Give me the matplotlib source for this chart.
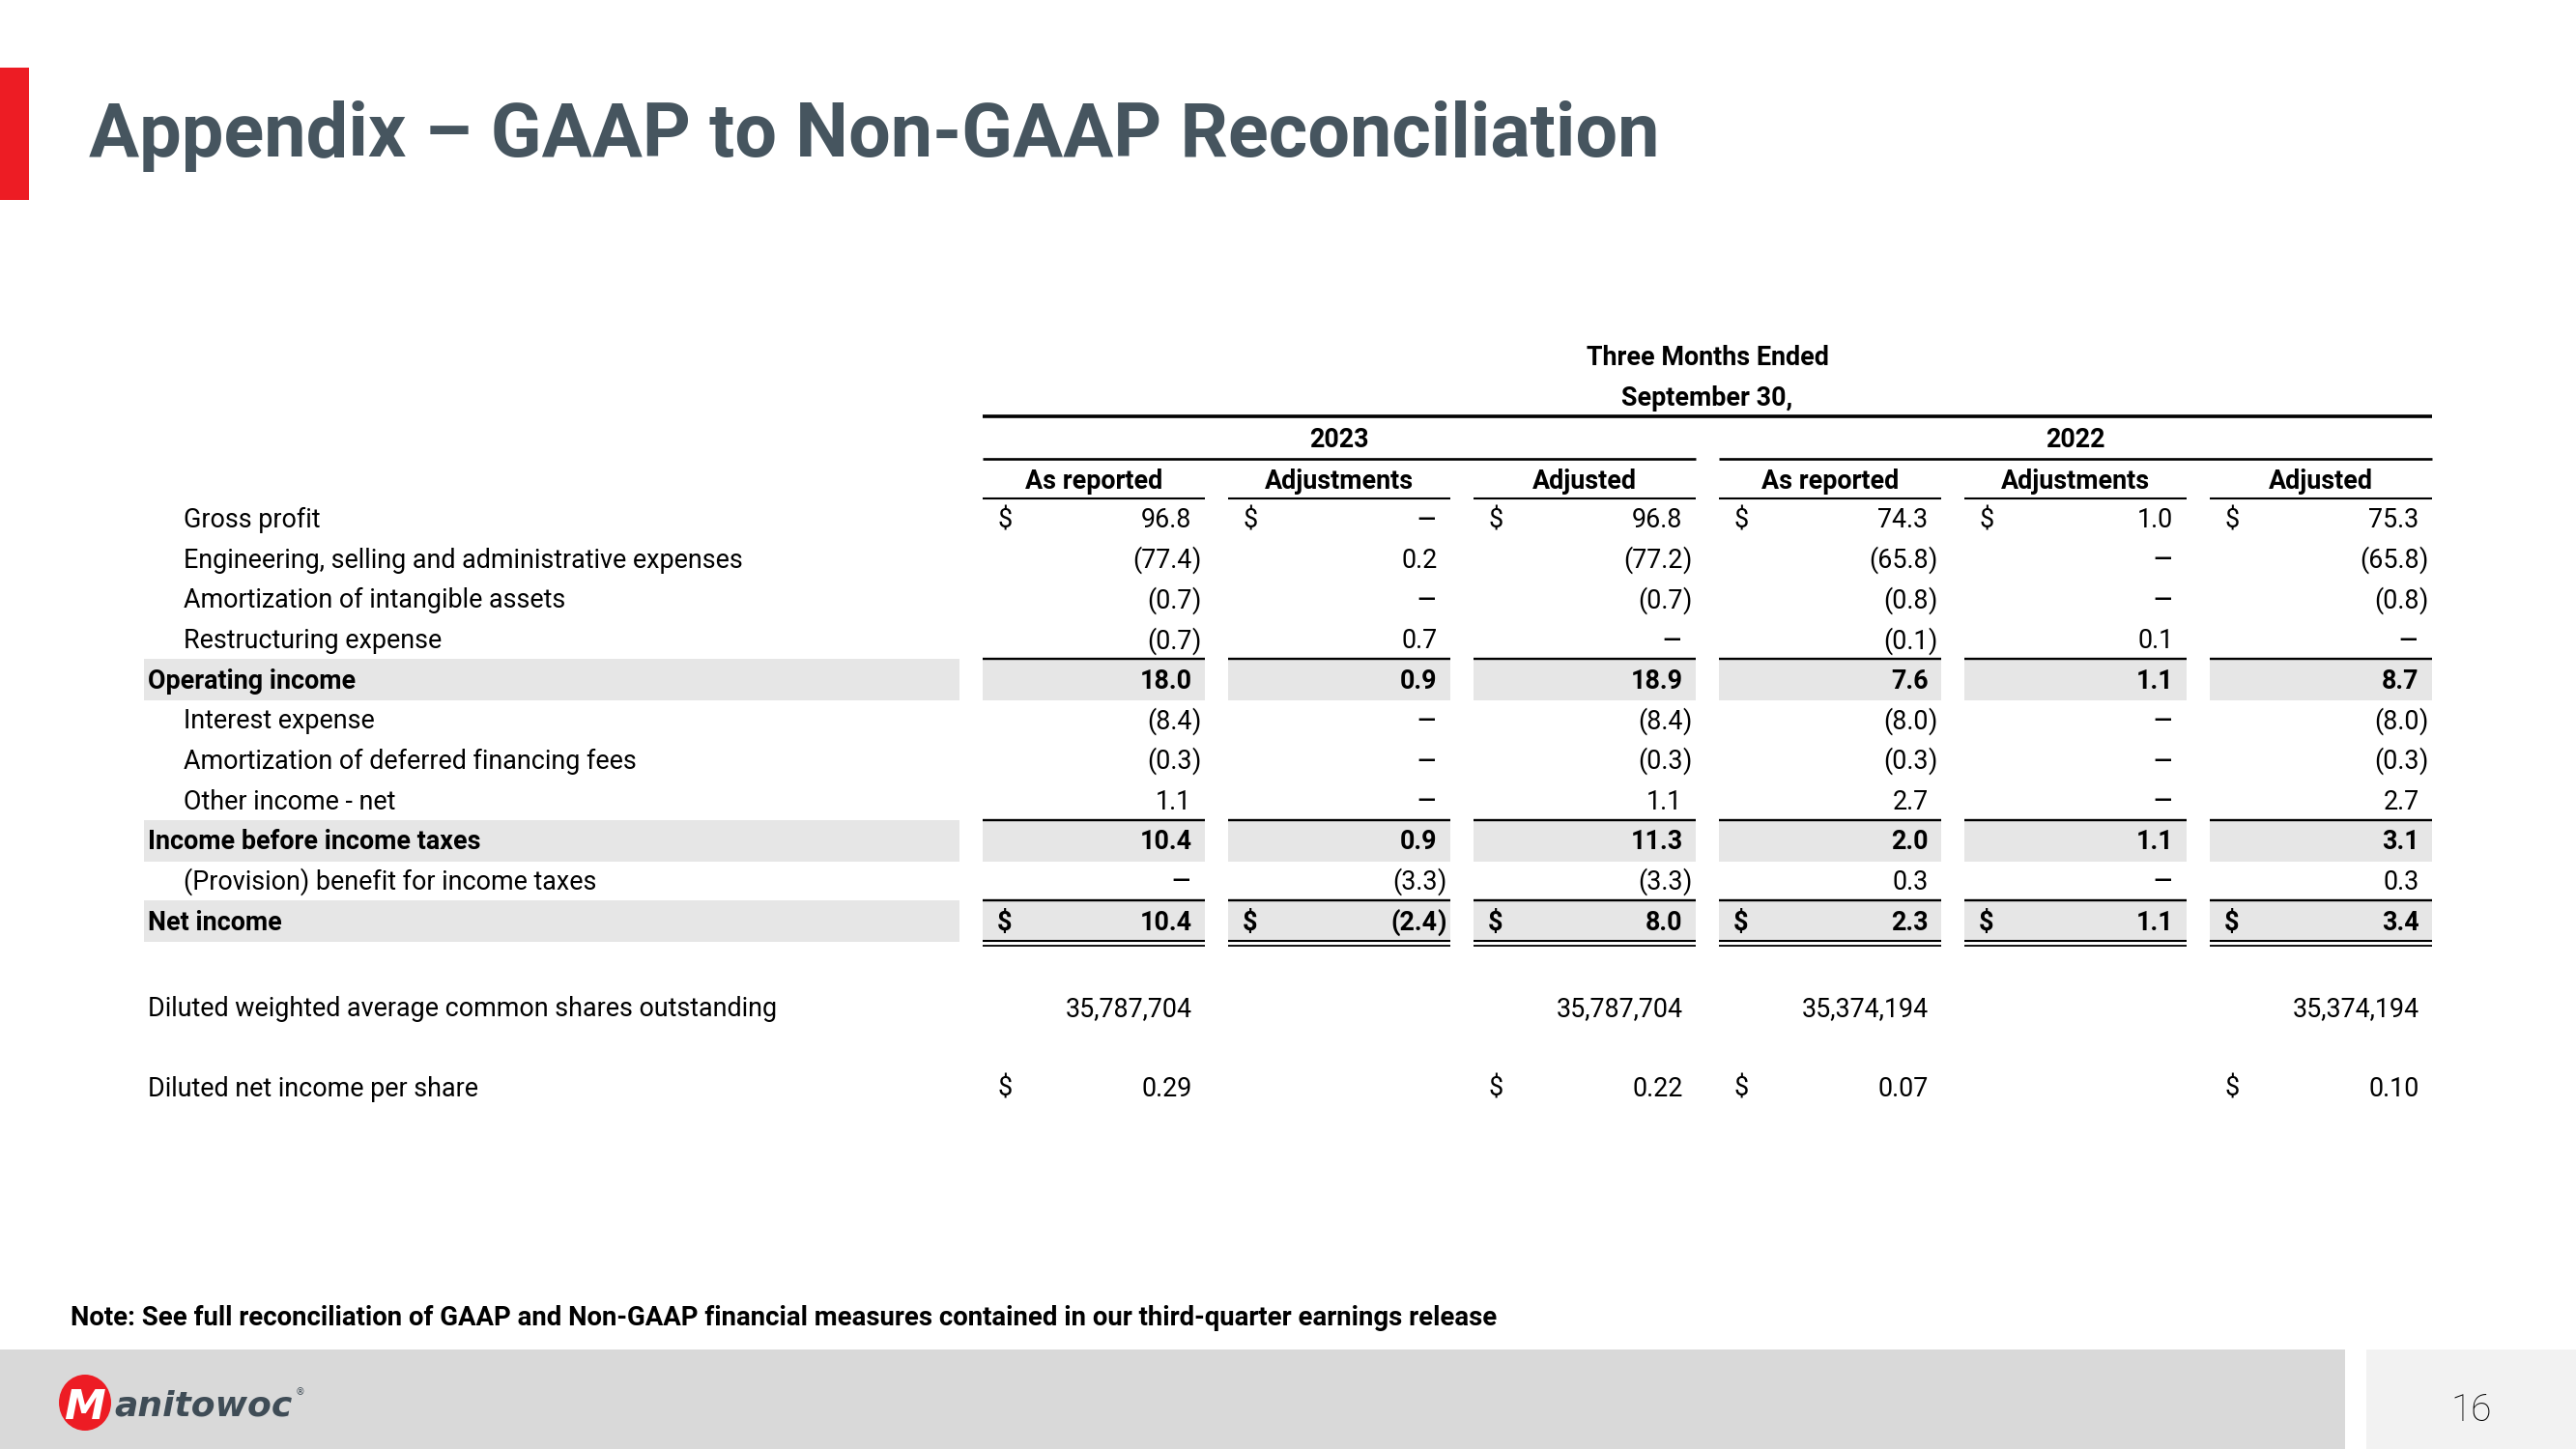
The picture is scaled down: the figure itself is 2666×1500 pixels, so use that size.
import matplotlib
matplotlib.use("Agg")
import matplotlib.pyplot as plt
from matplotlib.patches import Rectangle, Ellipse

# ---------------- data ----------------
title = "Appendix \u2013 GAAP to Non-GAAP Reconciliation"
period_title = ["Three Months Ended", "September 30,"]
years = ["2023", "2022"]
col_headers = ["As reported", "Adjustments", "Adjusted", "As reported", "Adjustments", "Adjusted"]

row_labels = [
    "Gross profit",
    "Engineering, selling and administrative expenses",
    "Amortization of intangible assets",
    "Restructuring expense",
    "Operating income",
    "Interest expense",
    "Amortization of deferred financing fees",
    "Other income - net",
    "Income before income taxes",
    "(Provision) benefit for income taxes",
    "Net income",
]
row_bold = [False, False, False, False, True, False, False, False, True, False, True]
row_dollar = [True, False, False, False, False, False, False, False, False, False, True]

as_reported_2023 = [96.8, -77.4, -0.7, -0.7, 18.0, -8.4, -0.3, 1.1, 10.4, None, 10.4]
adjustments_2023 = [None, 0.2, None, 0.7, 0.9, None, None, None, 0.9, -3.3, -2.4]
adjusted_2023 = [96.8, -77.2, -0.7, None, 18.9, -8.4, -0.3, 1.1, 11.3, -3.3, 8.0]
as_reported_2022 = [74.3, -65.8, -0.8, -0.1, 7.6, -8.0, -0.3, 2.7, 2.0, 0.3, 2.3]
adjustments_2022 = [1.0, None, None, 0.1, 1.1, None, None, None, 1.1, None, 1.1]
adjusted_2022 = [75.3, -65.8, -0.8, None, 8.7, -8.0, -0.3, 2.7, 3.1, 0.3, 3.4]

shares_label = "Diluted weighted average common shares outstanding"
diluted_shares = [35787704, None, 35787704, 35374194, None, 35374194]
eps_label = "Diluted net income per share"
diluted_eps = [0.29, None, 0.22, 0.07, None, 0.10]

note = ("Note: See full reconciliation of GAAP and Non-GAAP financial measures "
        "contained in our third-quarter earnings release")
page_number = "16"
logo_initial = "M"
logo_rest = "anitowoc"

columns = [as_reported_2023, adjustments_2023, adjusted_2023,
           as_reported_2022, adjustments_2022, adjusted_2022]

# ---------------- style ----------------
FONT = "Roboto"
TITLE_COLOR = "#46555f"
RED = "#ed1c24"
BAND = "#e6e6e6"
FS = 19.4

W, H = 2666, 1500
fig = plt.figure(figsize=(W / 100, H / 100), dpi=100)
ax = fig.add_axes([0, 0, 1, 1])
ax.set_xlim(0, W)
ax.set_ylim(H, 0)
ax.axis("off")

cap = FS * 100 / 72 * 0.711  # cap/digit height in px


def put(x, yc, s, ha="left", bold=False, size=FS, color="black", **kw):
    ax.text(x, yc + cap * size / FS / 2, s, ha=ha, va="baseline",
            fontsize=size, fontweight="bold" if bold else "normal",
            family=FONT, color=color, **kw)


# title
ax.add_patch(Rectangle((0, 70), 30, 137, color=RED, lw=0))
ax.text(92, 162, title, fontsize=55.8, fontweight="bold", family=FONT,
        color=TITLE_COLOR, va="baseline", ha="left")

# column geometry
col_start0, col_pitch, col_w = 1017, 254, 230
col_x0 = [col_start0 + i * col_pitch for i in range(6)]
col_x1 = [x + col_w for x in col_x0]
anchor = [x - 13.5 for x in col_x1]
dollar_x = [x + 15 for x in col_x0]
label_band = (149, 993)

# header
put((col_x0[0] + col_x1[5]) / 2, 368, period_title[0], ha="center", bold=True)
put((col_x0[0] + col_x1[5]) / 2, 410, period_title[1], ha="center", bold=True)
ax.plot([col_x0[0], col_x1[5]], [431, 431], color="black", lw=2.6, solid_capstyle="butt")
for g in range(2):
    a, b = col_x0[3 * g], col_x1[3 * g + 2]
    put((a + b) / 2, 453, years[g], ha="center", bold=True)
    ax.plot([a, b], [474.5, 474.5], color="black", lw=1.9, solid_capstyle="butt")
for i in range(6):
    put((col_x0[i] + col_x1[i]) / 2, 496, col_headers[i], ha="center", bold=True)
    ax.plot([col_x0[i], col_x1[i]], [515.5, 515.5], color="black", lw=1.5, solid_capstyle="butt")


def draw_value(i, yc, v, bold, decimals=1, thousands=False):
    if v is None:
        ax.text(anchor[i], yc + 12, "\u2013", ha="right", va="baseline",
                fontsize=24, fontweight="bold" if bold else "normal",
                family=FONT, color="black")
        return
    if thousands:
        s = f"{abs(v):,}"
    else:
        s = f"{abs(v):.{decimals}f}"
    if v < 0:
        put(anchor[i], yc, "(" + s, ha="right", bold=bold)
        put(anchor[i], yc, ")", ha="left", bold=bold)
    else:
        put(anchor[i], yc, s, ha="right", bold=bold)


y0, step = 536.6, 41.65
for r, lab in enumerate(row_labels):
    yc = y0 + r * step
    bold = row_bold[r]
    if bold:
        ax.add_patch(Rectangle((label_band[0], yc - 21), label_band[1] - label_band[0], 43,
                               color=BAND, lw=0, zorder=0))
        for i in range(6):
            ax.add_patch(Rectangle((col_x0[i], yc - 21), col_w, 43, color=BAND, lw=0, zorder=0))
            ax.plot([col_x0[i], col_x1[i]], [yc - 21, yc - 21], color="black", lw=1.7,
                    solid_capstyle="butt")
        put(153, yc, lab, bold=True)
    else:
        put(190, yc, lab)
    for i in range(6):
        if row_dollar[r]:
            put(dollar_x[i], yc, "$", bold=bold)
        draw_value(i, yc, columns[i][r], bold)

# double underline below net income
yn = y0 + 10 * step
for i in range(6):
    ax.plot([col_x0[i], col_x1[i]], [yn + 21.3, yn + 21.3], color="black", lw=1.5, solid_capstyle="butt")
    ax.plot([col_x0[i], col_x1[i]], [yn + 25.5, yn + 25.5], color="black", lw=1.3, solid_capstyle="butt")

# shares and EPS
ys, ye = 1042, 1125
put(153, ys, shares_label)
put(153, ye, eps_label)
for i in range(6):
    if diluted_shares[i] is not None:
        draw_value(i, ys, diluted_shares[i], False, thousands=True)
    if diluted_eps[i] is not None:
        put(dollar_x[i], ye, "$")
        draw_value(i, ye, diluted_eps[i], False, decimals=2)

# note
ax.text(73, 1372.5, note, fontsize=19.8, fontweight="bold", family=FONT,
        color="black", va="baseline", ha="left")

# footer
ax.add_patch(Rectangle((0, 1397), 2427, 103, color="#d9d9d9", lw=0))
ax.add_patch(Rectangle((2449, 1397), 217, 103, color="#f2f2f2", lw=0))
ax.text(2558, 1471, page_number, fontsize=28, fontweight="light", family=FONT,
        color="black", ha="center", va="baseline")

# logo
ax.add_patch(Ellipse((88, 1452), 54, 58, color=RED, lw=0))
ax.text(66, 1469, logo_initial, fontsize=31, fontweight="bold", style="italic",
        family="DejaVu Sans", color="white", ha="left", va="baseline")
ax.text(118, 1466, logo_rest, fontsize=26, fontweight="bold", style="italic",
        family="DejaVu Sans", color="#3f4c56", ha="left", va="baseline")
ax.text(306, 1444, "\u00ae", fontsize=7, family="DejaVu Sans", color="#3f4c56",
        ha="left", va="baseline")

fig.savefig("out.png", dpi=100)
